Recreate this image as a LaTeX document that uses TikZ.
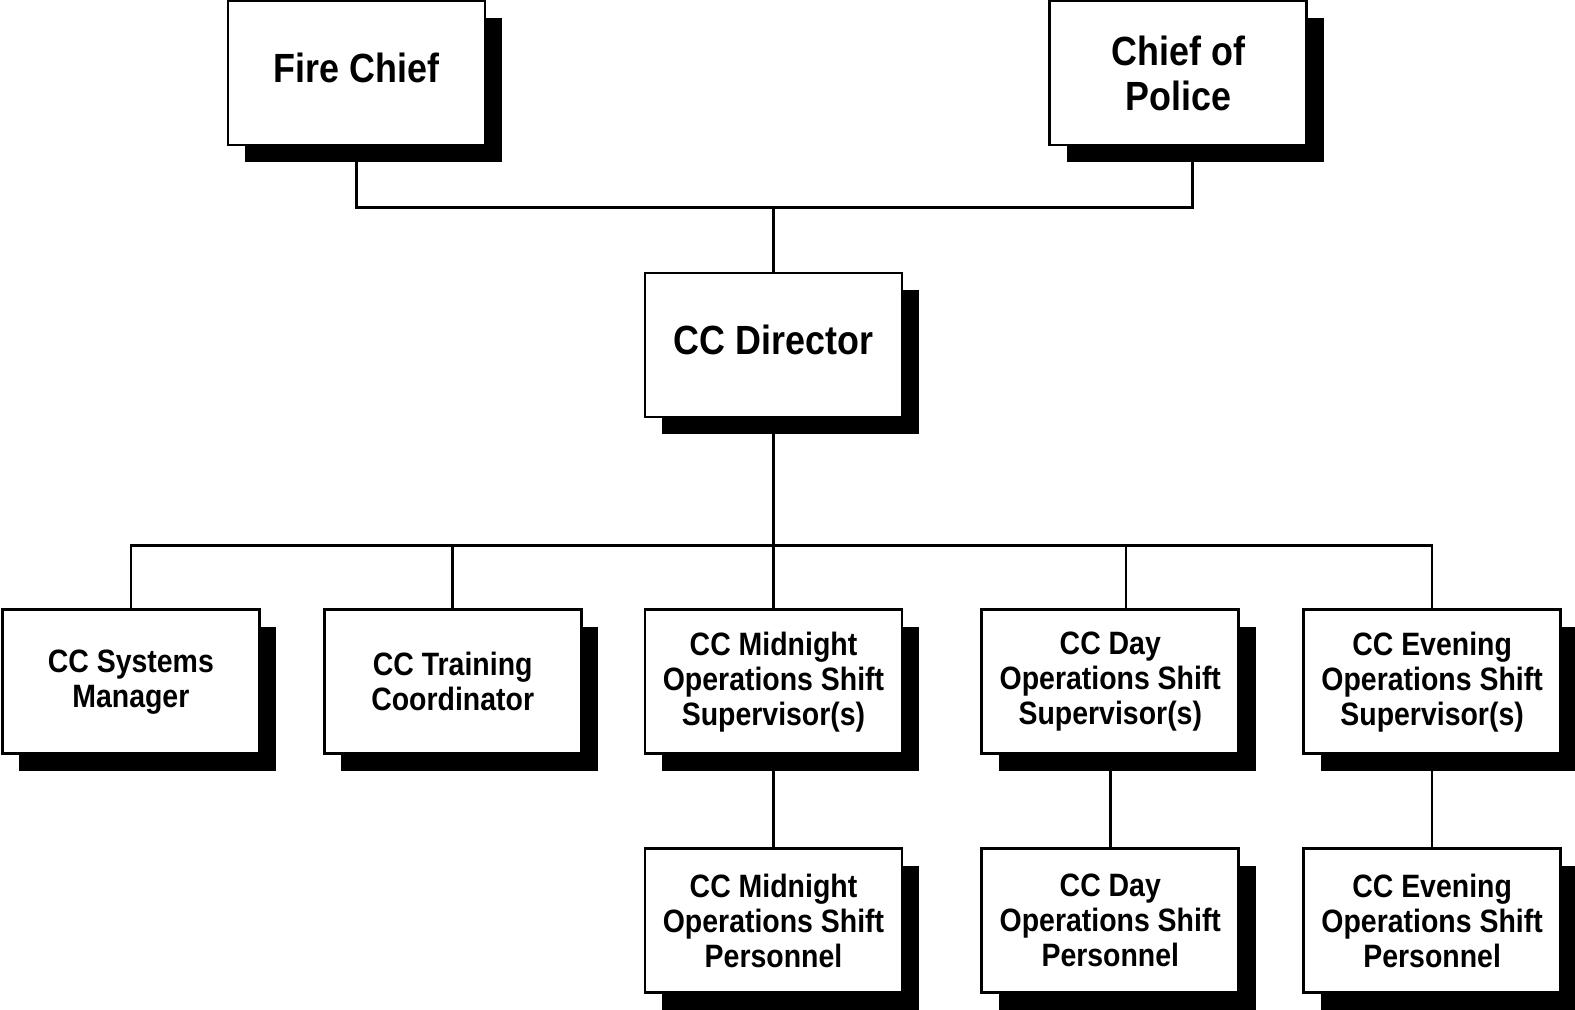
\documentclass[tikz,border=0pt]{standalone}
\usepackage{fontspec}
\setmainfont{Liberation Sans}[FakeStretch=0.88]
\usetikzlibrary{positioning,calc,shadows}

\begin{document}
\begin{tikzpicture}[
    orgbox/.style={draw=black, line width=0.8pt, fill=white, align=center, inner sep=2pt,
      minimum width=2.57cm, minimum height=1.44cm,
      drop shadow={shadow xshift=1.7mm, shadow yshift=-1.7mm, fill=black, opacity=1}},
    bigbox/.style={orgbox, font=\fontsize{11.6}{12.8}\selectfont\bfseries},
    smallbox/.style={orgbox, font=\fontsize{9.2}{10}\selectfont\bfseries},
    link/.style={line width=0.75pt}
  ]
    \useasboundingbox (0,0) rectangle (15.75,-10.10);
    % chiefs
    \node[bigbox, text depth=1mm] (fire) at (3.565,-0.73) {Fire Chief};
    \node[bigbox, right=5.62cm of fire] (police) {Chief of\\Police};
    % director
    \node[bigbox, text depth=1mm] (director) at (7.735,-3.45) {CC Director};
    % supervisors row
    \node[smallbox, below=1.90cm of director] (mid) {CC Midnight\\Operations Shift\\Supervisor(s)};
    \node[smallbox, left=0.61cm of mid] (training) {CC Training\\Coordinator};
    \node[smallbox, left=0.62cm of training] (systems) {CC Systems\\Manager};
    \node[smallbox, right=0.77cm of mid] (day) {CC Day\\Operations Shift\\Supervisor(s)};
    \node[smallbox, right=0.62cm of day] (evening) {CC Evening\\Operations Shift\\Supervisor(s)};
    % personnel row
    \node[smallbox, below=0.92cm of mid] (midpers) {CC Midnight\\Operations Shift\\Personnel};
    \node[smallbox, below=0.92cm of day] (daypers) {CC Day\\Operations Shift\\Personnel};
    \node[smallbox, below=0.92cm of evening] (evepers) {CC Evening\\Operations Shift\\Personnel};
    % connectors
    \coordinate (jtop) at ($(director.north)+(0,0.64)$);
    \coordinate (jbot) at ($(director.south)+(0,-1.27)$);
    \draw[link] (fire.south) |- (jtop) -| ([xshift=1.4mm]police.south);
    \draw[link] (jtop) -- (director.north);
    \draw[link] (director.south) -- (mid.north);
    \draw[link] (systems.north) |- (jbot) -| (evening.north);
    \draw[link] (training.north) -- (training.north |- jbot);
    \draw[link] ([xshift=1.55mm]day.north) -- ([xshift=1.55mm]day.north |- jbot);
    \draw[link] (mid) -- (midpers);
    \draw[link] (day) -- (daypers);
    \draw[link] (evening) -- (evepers);
\end{tikzpicture}
\end{document}
